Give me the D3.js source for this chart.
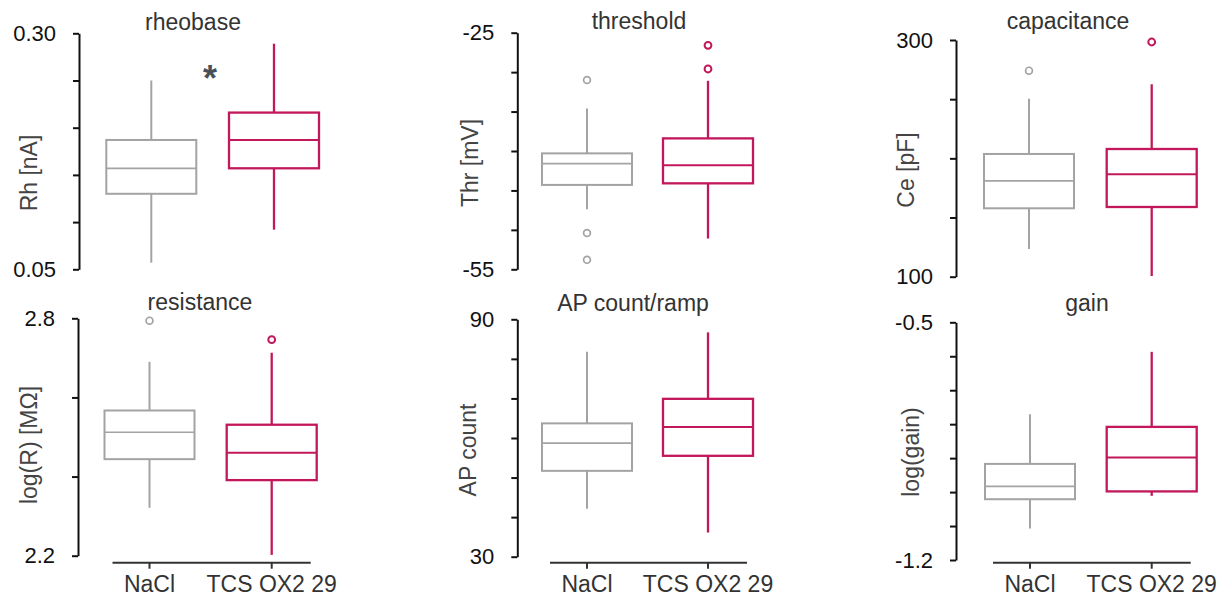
<!DOCTYPE html>
<html>
<head>
<meta charset="utf-8">
<script src="https://cdn.jsdelivr.net/npm/d3@7"></script>
<style>
  body { margin: 0; background: #fff; }
  text { font-family: "Liberation Sans", Arial, sans-serif; }
</style>
</head>
<body>
<svg id="my_svg"></svg>
<script>
const width = 1227;
const height = 599;

// data
const groups = ['NaCl', 'TCS OX2 29'];
const titles = ['rheobase', 'threshold', 'capacitance', 'resistance', 'AP count/ramp', 'gain'];
const yLabels = ['Rh [nA]', 'Thr [mV]', 'Ce [pF]', 'log(R) [MΩ]', 'AP count', 'log(gain)'];
const yDomains = [[0.05, 0.30], [-55, -25], [100, 300], [2.2, 2.8], [30, 90], [-1.2, -0.5]];
const yTicks = [
  [0.05, 0.10, 0.15, 0.20, 0.25, 0.30],
  [-55, -50, -45, -40, -35, -30, -25],
  [100, 150, 200, 250, 300],
  [2.2, 2.4, 2.6, 2.8],
  [30, 40, 50, 60, 70, 80, 90],
  [-1.2, -1.1, -1.0, -0.9, -0.8, -0.7, -0.6, -0.5]
];
const tickLabels = [['0.05', '0.30'], ['-55', '-25'], ['100', '300'], ['2.2', '2.8'], ['30', '90'], ['-1.2', '-0.5']];
// [whisker low, q1, median, q3, whisker high]
const naclStats = [
  [0.057, 0.130, 0.157, 0.187, 0.250],
  [-47.4, -44.3, -41.6, -40.3, -34.6],
  [123.4, 157.8, 180.9, 203.7, 250.4],
  [2.321, 2.444, 2.512, 2.567, 2.690],
  [42.1, 51.7, 58.7, 63.7, 81.8],
  [-1.107, -1.021, -0.983, -0.917, -0.771]
];
const tcsStats = [
  [0.092, 0.157, 0.187, 0.216, 0.289],
  [-51.1, -44.1, -41.8, -38.4, -31.1],
  [100.6, 158.9, 186.5, 207.9, 262.6],
  [2.202, 2.391, 2.460, 2.531, 2.713],
  [36.1, 55.5, 62.8, 69.9, 86.7],
  [-1.011, -0.998, -0.898, -0.808, -0.587]
];
const naclOutliers = [[], [-31.0, -50.4, -53.8], [274.1], [2.794], [], []];
const tcsOutliers = [[], [-26.6, -29.6], [298.3], [2.746], [], []];
const signif = ['*', '', '', '', '', ''];

const colors = ['#a3a3a3', '#c2185b'];

// layout of each panel (axis x, y range, box centres, label positions)
const layout = [
  {ax: 79, top: 33.3, bottom: 269.3, c: [151.3, 274], tx: 193, ty: 22, lx: 29, ly: 173, xAxis: false, star: [210, 75]},
  {ax: 517.3, top: 32.7, bottom: 269.3, c: [587, 708], tx: 639, ty: 21, lx: 470, ly: 163, xAxis: false},
  {ax: 956, top: 40, bottom: 276.7, c: [1029, 1151.7], tx: 1068, ty: 21, lx: 906, ly: 170, xAxis: false},
  {ax: 78, top: 318.3, bottom: 555.7, c: [149.5, 271.7], tx: 200, ty: 302, lx: 29, ly: 445, xAxis: true},
  {ax: 517.3, top: 319.3, bottom: 556.7, c: [587, 708], tx: 633, ty: 303, lx: 468, ly: 450, xAxis: true},
  {ax: 956, top: 322.3, bottom: 560, c: [1030, 1151.7], tx: 1087, ty: 303, lx: 911, ly: 452, xAxis: true}
];
const boxW = 90;
const xAxisY = 562.7;

const svg = d3.select('#my_svg')
  .attr('width', width)
  .attr('height', height);

titles.forEach(function (title, i) {
  const L = layout[i];
  const g = svg.append('g').attr('class', 'panel');

  const y = d3.scaleLinear()
    .domain(yDomains[i])
    .range([L.bottom, L.top]);
  const x = d3.scalePoint()
    .domain(groups)
    .range(L.c);

  // y axis
  const yAxis = g.append('g')
    .attr('transform', `translate(${L.ax},0)`)
    .call(d3.axisLeft(y)
      .tickValues(yTicks[i])
      .tickSize(6)
      .tickSizeOuter(0)
      .tickPadding(17)
      .tickFormat(function (d, k) {
        if (k === 0) return tickLabels[i][0];
        if (k === yTicks[i].length - 1) return tickLabels[i][1];
        return '';
      }));
  yAxis.select('.domain').attr('stroke', '#111').attr('stroke-width', 2);
  yAxis.selectAll('.tick line').attr('stroke', '#111').attr('stroke-width', 2);
  yAxis.selectAll('.tick text')
    .attr('fill', '#111')
    .style('font-size', '22px')
    .style('font-family', '"Liberation Sans", Arial, sans-serif');

  // x axis (bottom row only)
  if (L.xAxis) {
    const xa = g.append('g')
      .attr('transform', `translate(0,${xAxisY})`);
    xa.append('line')
      .attr('x1', x(groups[0]) - 37)
      .attr('x2', x(groups[1]) + 39)
      .attr('stroke', '#333')
      .attr('stroke-width', 2);
    xa.selectAll('.xt')
      .data(groups)
      .enter().append('line')
      .attr('x1', d => x(d))
      .attr('x2', d => x(d))
      .attr('y1', 0)
      .attr('y2', 6)
      .attr('stroke', '#333')
      .attr('stroke-width', 2);
    xa.selectAll('.xl')
      .data(groups)
      .enter().append('text')
      .attr('x', d => x(d))
      .attr('y', 29)
      .attr('text-anchor', 'middle')
      .attr('fill', '#333')
      .style('font-size', '23px')
      .text(d => d);
  }

  // title
  g.append('text')
    .attr('x', L.tx)
    .attr('y', L.ty)
    .attr('text-anchor', 'middle')
    .attr('dominant-baseline', 'central')
    .attr('fill', '#333')
    .style('font-size', '23px')
    .text(title);

  // y label
  g.append('text')
    .attr('transform', `translate(${L.lx},${L.ly}) rotate(-90)`)
    .attr('text-anchor', 'middle')
    .attr('dominant-baseline', 'central')
    .attr('fill', '#444')
    .style('font-size', '23px')
    .text(yLabels[i]);

  // boxes
  const boxes = [
    {group: groups[0], s: naclStats[i], out: naclOutliers[i], color: colors[0], sw: 2},
    {group: groups[1], s: tcsStats[i], out: tcsOutliers[i], color: colors[1], sw: 2.3}
  ];
  const bg = g.selectAll('.box')
    .data(boxes)
    .enter().append('g')
    .attr('class', 'box');

  // whiskers
  bg.append('line')
    .attr('x1', d => x(d.group)).attr('x2', d => x(d.group))
    .attr('y1', d => y(d.s[4])).attr('y2', d => y(d.s[3]))
    .attr('stroke', d => d.color).attr('stroke-width', d => d.sw);
  bg.append('line')
    .attr('x1', d => x(d.group)).attr('x2', d => x(d.group))
    .attr('y1', d => y(d.s[1])).attr('y2', d => y(d.s[0]))
    .attr('stroke', d => d.color).attr('stroke-width', d => d.sw);
  // box
  bg.append('rect')
    .attr('x', d => x(d.group) - boxW / 2)
    .attr('width', boxW)
    .attr('y', d => y(d.s[3]))
    .attr('height', d => y(d.s[1]) - y(d.s[3]))
    .attr('fill', 'none')
    .attr('stroke', d => d.color).attr('stroke-width', d => d.sw);
  // median
  bg.append('line')
    .attr('x1', d => x(d.group) - boxW / 2).attr('x2', d => x(d.group) + boxW / 2)
    .attr('y1', d => y(d.s[2])).attr('y2', d => y(d.s[2]))
    .attr('stroke', d => d.color).attr('stroke-width', d => d.sw - 0.3);
  // outliers
  bg.selectAll('circle')
    .data(d => d.out.map(v => ({v: v, group: d.group, color: d.color, sw: d.sw})))
    .enter().append('circle')
    .attr('cx', d => x(d.group))
    .attr('cy', d => y(d.v))
    .attr('r', 3.4)
    .attr('fill', 'none')
    .attr('stroke', d => d.color)
    .attr('stroke-width', d => d.sw - 0.3);

  // significance star
  if (signif[i]) {
    g.append('text')
      .attr('x', L.star[0])
      .attr('y', L.star[1] + 16)
      .attr('text-anchor', 'middle')
      .attr('fill', '#4a5058')
      .style('font-size', '36px')
      .style('font-weight', 'bold')
      .text(signif[i]);
  }
});
</script>
</body>
</html>
